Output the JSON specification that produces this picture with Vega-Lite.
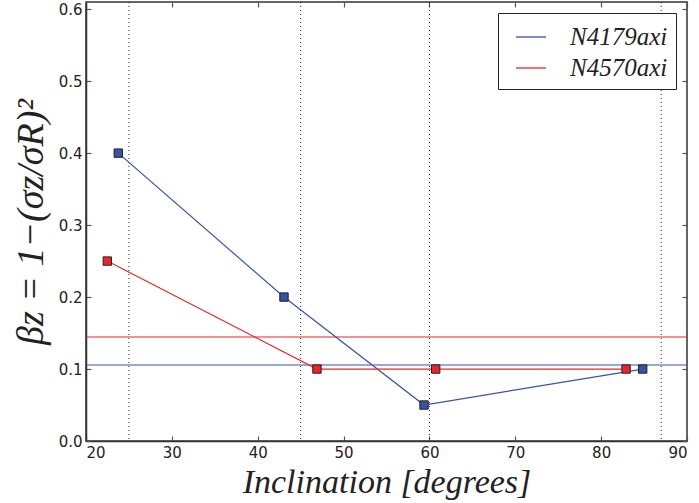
{
  "$schema": "https://vega.github.io/schema/vega-lite/v6.json",
  "width": 601,
  "height": 439,
  "autosize": "none",
  "padding": {"left": 86, "top": 2, "right": 12, "bottom": 62},
  "background": "white",
  "config": {
    "view": {"stroke": "#333", "strokeWidth": 1.5},
    "axis": {
      "grid": false,
      "domainColor": "#333",
      "domainWidth": 1.5,
      "tickColor": "#555",
      "tickSize": -5,
      "tickWidth": 1.2,
      "labelFont": "DejaVu Sans",
      "labelFontSize": 15,
      "labelColor": "#222",
      "titleFont": "Liberation Serif",
      "titleFontStyle": "italic",
      "titleFontWeight": "normal",
      "titleColor": "#222"
    }
  },
  "resolve": {"axis": {"x": "independent", "y": "independent"}},
  "datasets": {
    "pts": [
      {"inc": 23.76, "beta": 0.40, "series": "N4179axi"},
      {"inc": 43.06, "beta": 0.20, "series": "N4179axi"},
      {"inc": 59.37, "beta": 0.05, "series": "N4179axi"},
      {"inc": 84.84, "beta": 0.10, "series": "N4179axi"},
      {"inc": 22.48, "beta": 0.25, "series": "N4570axi"},
      {"inc": 46.9, "beta": 0.10, "series": "N4570axi"},
      {"inc": 60.73, "beta": 0.10, "series": "N4570axi"},
      {"inc": 82.9, "beta": 0.10, "series": "N4570axi"}
    ],
    "hl": [
      {"beta": 0.1056, "series": "N4179axi"},
      {"beta": 0.1445, "series": "N4570axi"}
    ],
    "vl": [{"inc": 25}, {"inc": 45}, {"inc": 60}, {"inc": 87}]
  },
  "layer": [
    {
      "data": {"name": "pts"},
      "mark": {"type": "point", "opacity": 0},
      "encoding": {
        "x": {
          "field": "inc", "type": "quantitative",
          "scale": {"domain": [20, 90], "nice": false},
          "axis": {"orient": "top", "values": [20, 30, 40, 50, 60, 70, 80, 90], "labels": false, "title": null, "domain": false}
        },
        "y": {
          "field": "beta", "type": "quantitative",
          "scale": {"domain": [0, 0.61], "nice": false, "zero": false},
          "axis": {"orient": "right", "values": [0, 0.1, 0.2, 0.3, 0.4, 0.5, 0.6], "labels": false, "title": null, "domain": false}
        }
      }
    },
    {
      "data": {"name": "vl"},
      "mark": {"type": "rule", "color": "#222", "strokeWidth": 1, "strokeDash": [1, 3]},
      "encoding": {
        "x": {"field": "inc", "type": "quantitative", "axis": null}
      }
    },
    {
      "data": {"name": "hl"},
      "mark": {"type": "rule", "strokeWidth": 1.2},
      "encoding": {
        "y": {"field": "beta", "type": "quantitative", "axis": null},
        "color": {"field": "series", "type": "nominal"}
      }
    },
    {
      "data": {"name": "pts"},
      "mark": {"type": "line", "strokeWidth": 1.2},
      "encoding": {
        "x": {
          "field": "inc", "type": "quantitative",
          "axis": {"values": [20, 30, 40, 50, 60, 70, 80, 90], "labelPadding": 9, "title": "Inclination [degrees]", "titleFontSize": 34, "titlePadding": 5}
        },
        "y": {
          "field": "beta", "type": "quantitative",
          "axis": {"values": [0, 0.1, 0.2, 0.3, 0.4, 0.5, 0.6], "format": ".1f", "labelPadding": 9, "title": "βz = 1−(σz/σR)²", "titleFontSize": 38, "titlePadding": 8}
        },
        "color": {
          "field": "series", "type": "nominal",
          "scale": {"domain": ["N4179axi", "N4570axi"], "range": ["#3653a5", "#e8252b"]},
          "legend": {
            "title": null,
            "orient": "none",
            "legendX": 412,
            "legendY": 11,
            "symbolType": "stroke",
            "symbolSize": 900,
            "symbolStrokeWidth": 1.3,
            "symbolOffset": 9,
            "labelFont": "Liberation Serif",
            "labelFontStyle": "italic",
            "labelFontSize": 25,
            "labelColor": "#222",
            "labelOffset": 23,
            "rowPadding": 2,
            "padding": 8,
            "strokeColor": "#222",
            "fillColor": "white",
            "labelLimit": 300
          }
        }
      }
    },
    {
      "data": {"name": "pts"},
      "mark": {"type": "square", "filled": true, "size": 70, "stroke": "#222", "strokeWidth": 1, "opacity": 1},
      "encoding": {
        "x": {"field": "inc", "type": "quantitative", "axis": null},
        "y": {"field": "beta", "type": "quantitative", "axis": null},
        "color": {"field": "series", "type": "nominal"}
      }
    }
  ]
}
